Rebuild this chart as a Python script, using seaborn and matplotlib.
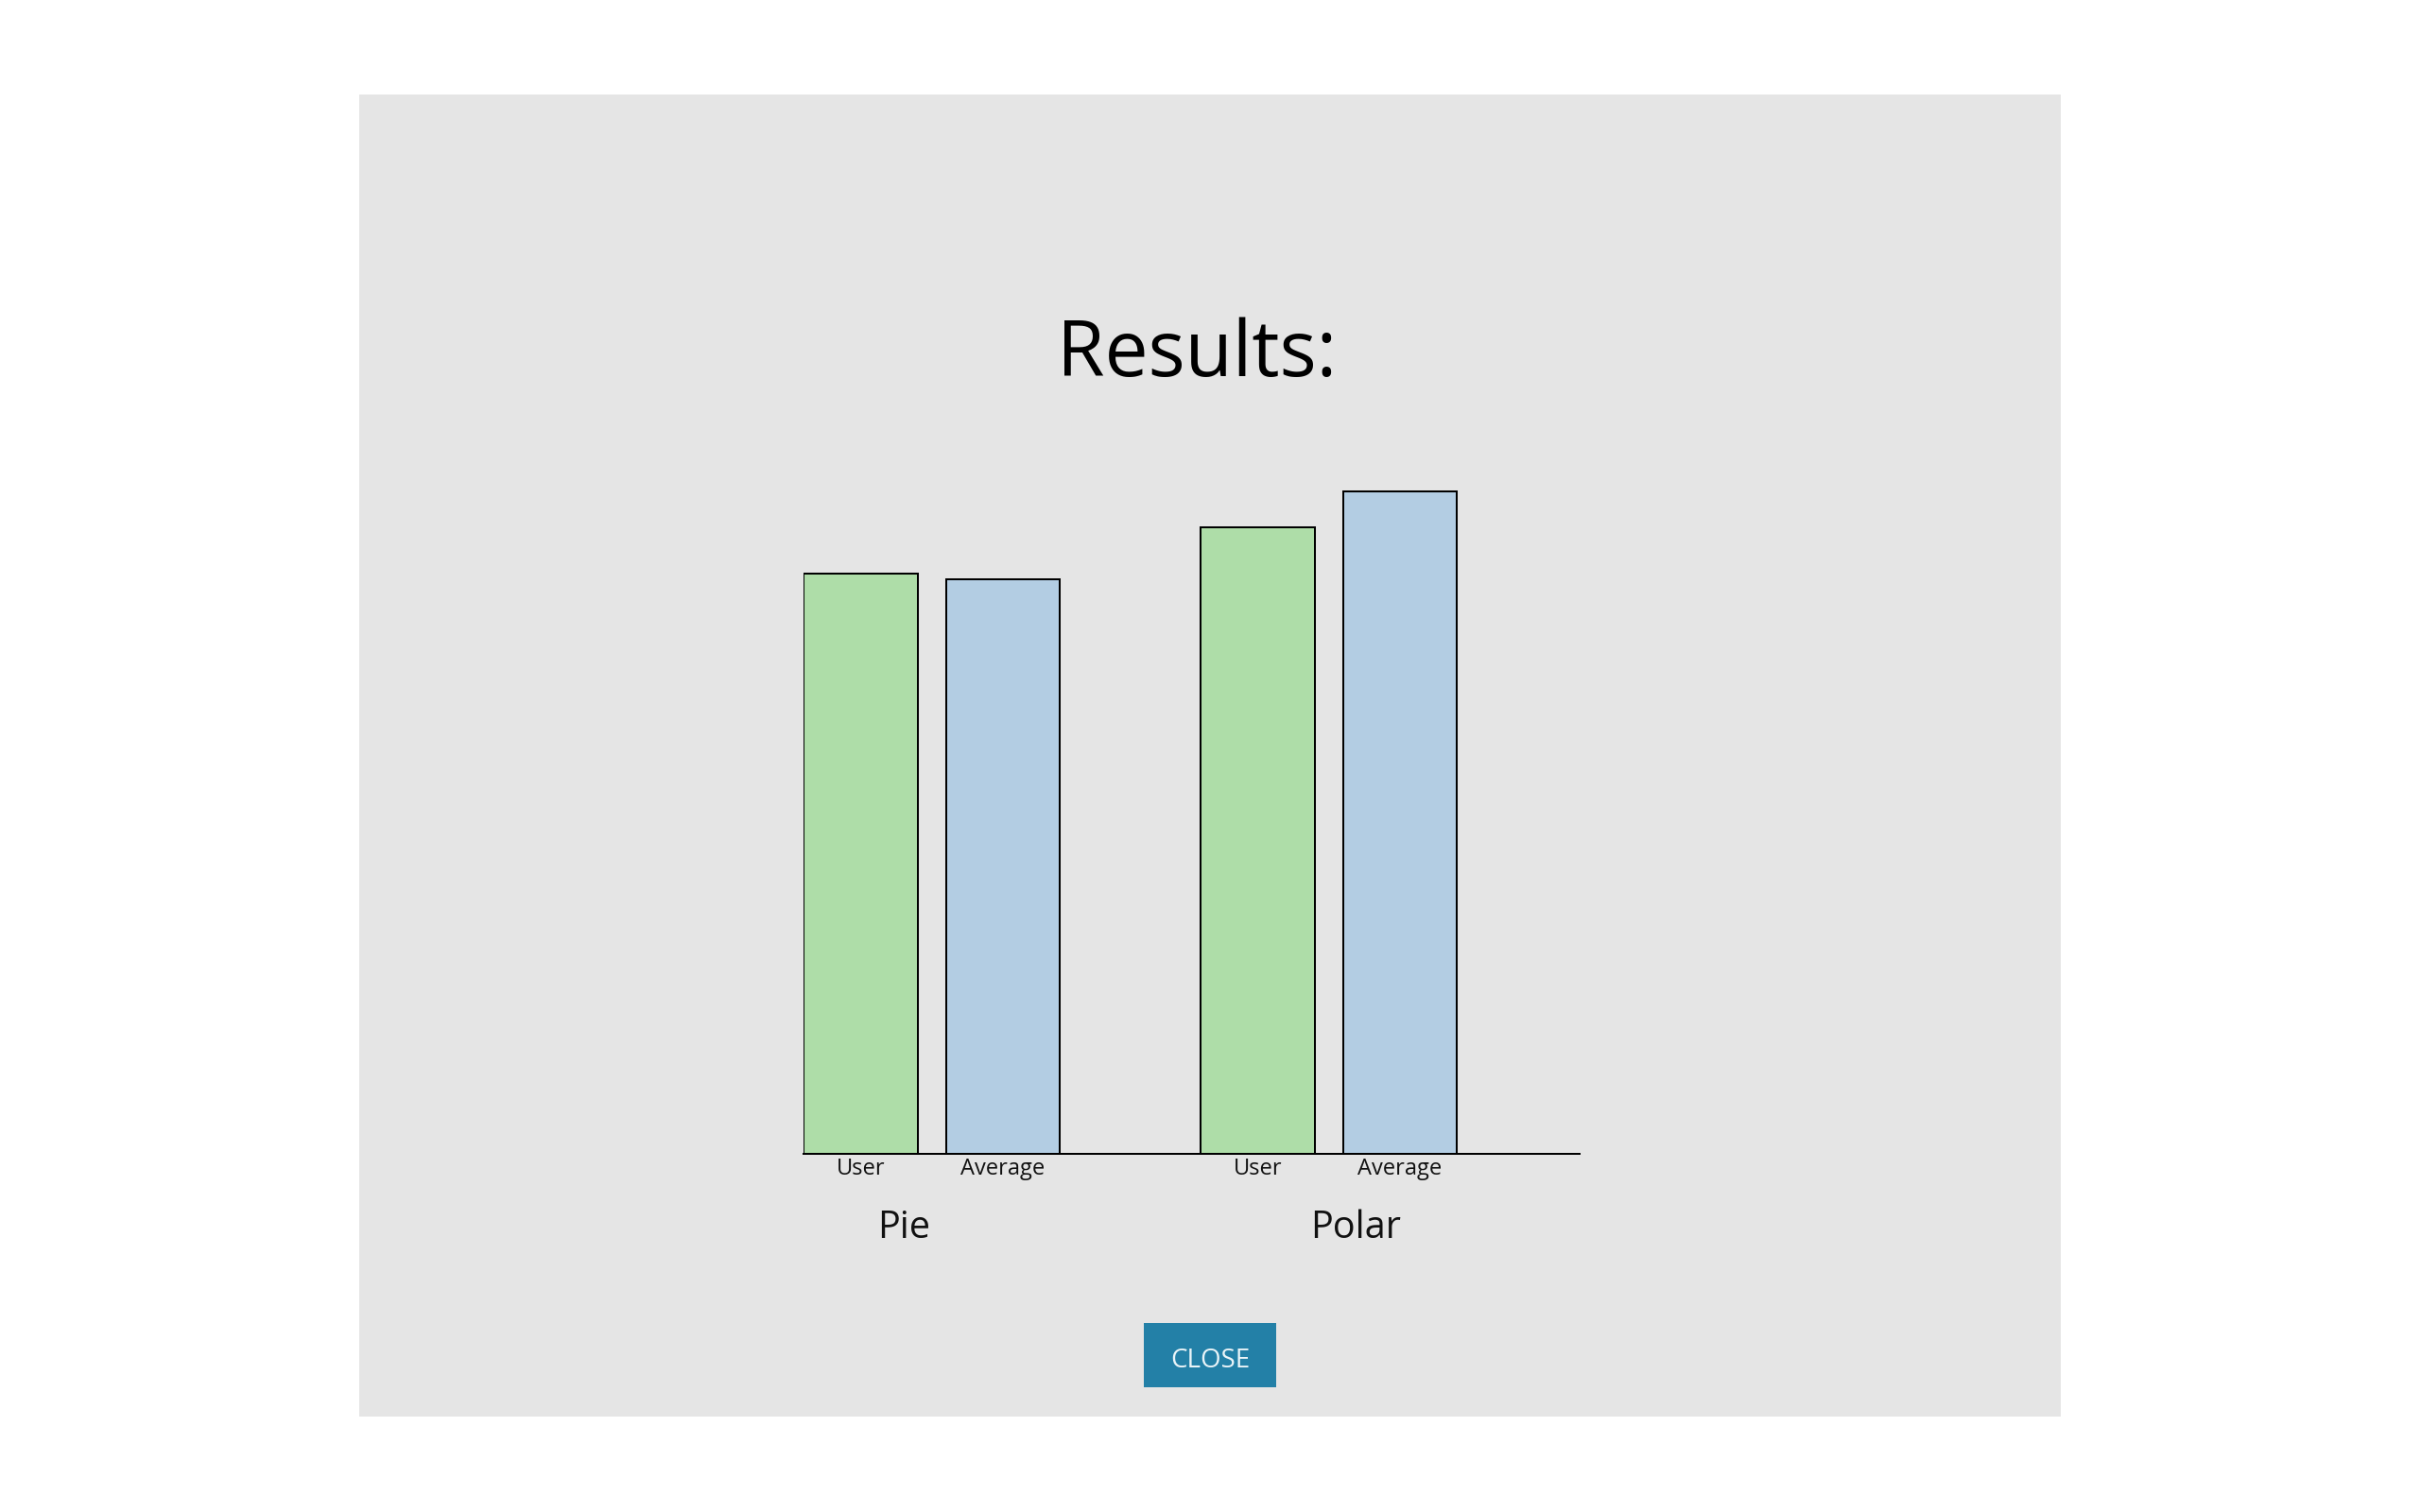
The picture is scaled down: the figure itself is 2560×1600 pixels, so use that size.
import matplotlib
matplotlib.use("Agg")
import matplotlib.pyplot as plt
from matplotlib.patches import Rectangle
import seaborn as sns
import pandas as pd

# ---- data ----
groups = ["Pie", "Pie", "Polar", "Polar"]
series = ["User", "Average", "User", "Average"]
values = [61.4, 60.8, 66.3, 70.1]
group_labels = ["Pie", "Polar"]
series_colors = {"User": "#aedda8", "Average": "#b3cde3"}
title_text = "Results:"
button_text = "CLOSE"

sns.set_style("white")
plt.rcParams["font.family"] = ["Open Sans", "DejaVu Sans"]

W, H = 2560, 1600
fig = plt.figure(figsize=(25.6, 16), dpi=100, facecolor="white")

# grey panel (drawn beneath everything)
fig.patches.append(Rectangle((380 / W, 1 - 1499 / H), 1800 / W, 1399 / H,
                             transform=fig.transFigure, facecolor="#e5e5e5",
                             edgecolor="none", zorder=-10))

# axes: baseline at y=1221.2 px, 10 px per unit
ax_left, ax_right = 849.8, 1671.2
base_y = 1221.2
ax_h = 750.0
ax = fig.add_axes([ax_left / W, (H - base_y) / H, (ax_right - ax_left) / W, ax_h / H])
ax.set_facecolor("none")
ax.set_zorder(2)

df = pd.DataFrame({"group": groups, "series": series, "value": values})
sns.barplot(data=df, x="group", y="value", hue="series", order=group_labels,
            hue_order=["User", "Average"], palette=series_colors, saturation=1,
            width=0.716, gap=0.2, edgecolor="black", linewidth=1.45,
            legend=False, ax=ax, zorder=2)

px_per_unit = 420.2
ax.set_xlim(-(985.6 - ax_left) / px_per_unit, (ax_right - 985.6) / px_per_unit)
ax.set_ylim(0, ax_h / 10.0)

# tick labels under each bar, from the bar patches
bars = [p for p in ax.patches if p.get_height() > 0]
bars = sorted(bars, key=lambda p: p.get_x())
centers = [p.get_x() + p.get_width() / 2 for p in bars]
ax.set_xticks(centers)
ax.set_xticklabels(series, fontsize=17, color="#111111")
ax.tick_params(axis="x", length=0, pad=3)
ax.set_yticks([])
ax.set_xlabel("")
ax.set_ylabel("")
for s in ["left", "right", "top"]:
    ax.spines[s].set_visible(False)
ax.spines["bottom"].set_color("black")
ax.spines["bottom"].set_linewidth(1.45)
ax.spines["bottom"].set_zorder(3)

# group labels
fig.text(955.7 / W, (H - 1310) / H, group_labels[0], fontsize=28.5,
         ha="center", va="baseline", color="#111111")
fig.text(1434 / W, (H - 1310) / H, group_labels[1], fontsize=28.5,
         ha="center", va="baseline", color="#111111")

# title
fig.text(1265.8 / W, (H - 398.3) / H, title_text, fontsize=59,
         ha="center", va="baseline", color="black")

# close button
fig.patches.append(Rectangle((1210 / W, 1 - 1467.7 / H), 140 / W, 67.7 / H,
                             transform=fig.transFigure, facecolor="#2380a7",
                             edgecolor="none", zorder=1))
fig.text(1280 / W, (H - 1447.3) / H, button_text, fontsize=20,
         ha="center", va="baseline", color="#eaf4f8", zorder=3)

fig.savefig("out.png", dpi=100, facecolor="white")
